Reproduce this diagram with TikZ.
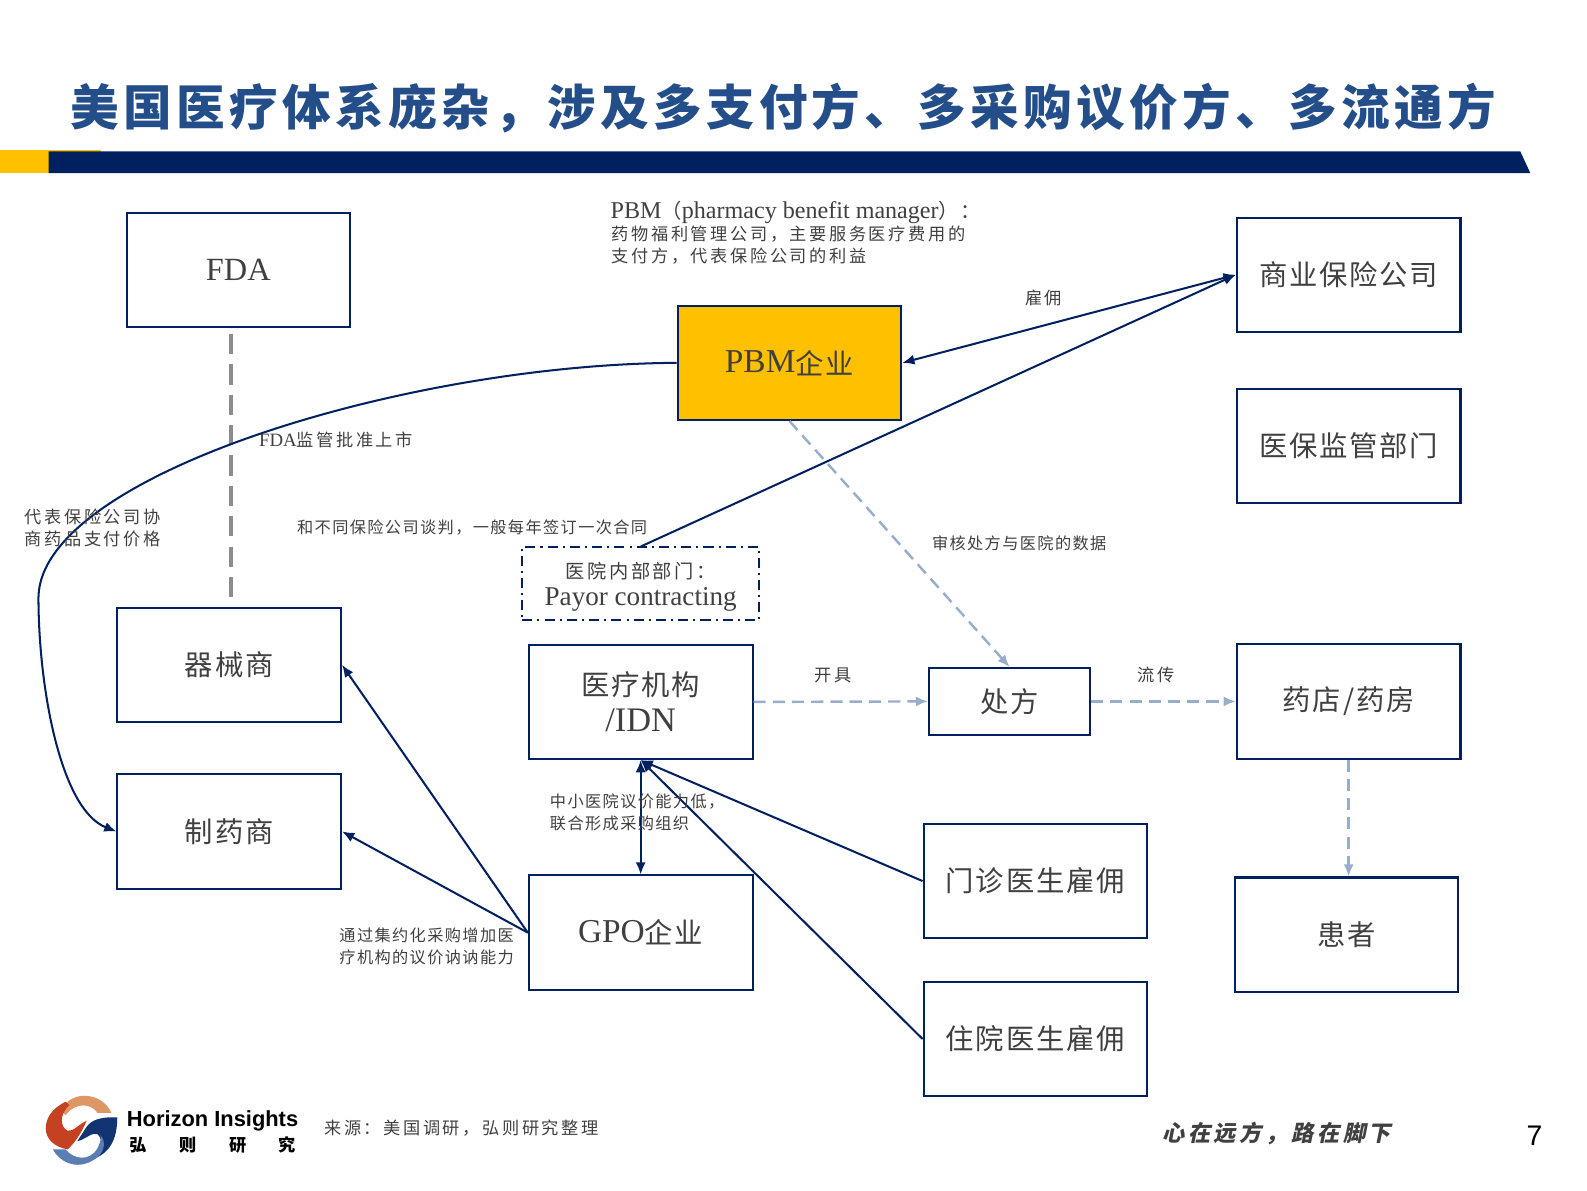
\documentclass[tikz,border=0pt]{standalone}
\usepackage{fontspec}
\usetikzlibrary{arrows.meta}
\setmainfont{Liberation Serif}
\newfontfamily\zhT[LetterSpace=9]{Noto Sans CJK SC}
\newfontfamily\zhB[LetterSpace=6.5]{Noto Sans CJK SC}
\newfontfamily\zhN[LetterSpace=15]{Noto Sans CJK SC}
\newfontfamily\zhM[LetterSpace=14]{Noto Sans CJK SC}
\newfontfamily\zhS[LetterSpace=8.5]{Noto Sans CJK SC}
\newfontfamily\zhQ[LetterSpace=16,FakeSlant=0.2]{Noto Sans CJK SC}
\newfontfamily\logofont{Liberation Sans}
\definecolor{navy}{HTML}{002060}
\definecolor{gold}{HTML}{FFC000}
\definecolor{titleblue}{HTML}{234E8A}
\definecolor{ink}{HTML}{404040}
\definecolor{pale}{HTML}{98ACCC}
\definecolor{logotan}{RGB}{222,150,100}
\definecolor{logored}{RGB}{196,66,34}
\definecolor{logonavy}{RGB}{18,52,112}
\definecolor{logosky}{RGB}{90,125,178}
\tikzset{
 box/.style={draw=navy,line width=1pt,minimum width=110.5pt,minimum height=56.5pt,inner sep=0pt,align=center,text=ink,font=\fontsize{14}{18}\selectfont},
 lbl/.style={text=ink,inner sep=0pt,align=left,font=\fontsize{8.5}{11}\selectfont},
 solidarrow/.style={draw=navy,line width=1pt,-{Latex[length=6pt,width=5pt]}},
 twoarrow/.style={draw=navy,line width=1pt,{Latex[length=6pt,width=5pt]}-{Latex[length=6pt,width=5pt]}},
 palearrow/.style={draw=pale,line width=1.2pt,dash pattern=on 6pt off 3.5pt,-{Latex[length=6pt,width=5pt]}},
}
\begin{document}
\begin{tikzpicture}[x=0.5pt,y=-0.5pt]
\useasboundingbox (0,0) rectangle (1568,1176);
% title and bar
\node[inner sep=0pt,text=titleblue] (title) at (774,107) {\fontsize{24}{28}\selectfont\zhT\bfseries 美国医疗体系庞杂，涉及多支付方、多采购议价方、多流通方};
\fill[gold] (0,148.5) rectangle (48,171);
\fill[gold] (48,148.5) rectangle (100,150);
\fill[navy] (48,149.5) -- (1502,149.5) -- (1512,171) -- (48,171) -- cycle;
% boxes
\node[box] (fda) at (235.5,267) {\raisebox{-0.8pt}{\fontsize{16}{19}\selectfont FDA}};
\node[box] (ins) at (1332.5,271.5) {\zhB 商业保险公司};
\node[box,fill=gold] (pbm) at (780,358.5) {\raisebox{0.6pt}{\fontsize{16.5}{19}\selectfont PBM}\zhB 企业};
\node[box] (reg) at (1332.5,440.5) {\zhB 医保监管部门};
\node[box,minimum width=117pt,minimum height=36.5pt,line width=1pt,dash pattern=on 5pt off 2.5pt on 1pt off 2.5pt,font=\fontsize{13.4}{13.5}\selectfont] (pay) at (633,576.5) {\rule{0pt}{11pt}{\fontsize{9.5}{13.5}\selectfont\zhM 医院内部部门：}\\Payor contracting};
\node[box] (dev) at (226.5,657) {\zhB 器械商};
\node[box] (idn) at (633,693.5) {\zhB 医疗机构\\{\fontsize{17}{18}\selectfont /IDN}};
\node[box,minimum width=79.5pt,minimum height=33pt] (rx) at (997.5,693) {\zhB 处方};
\node[box] (ph) at (1332.5,693) {\raisebox{-0.8pt}{\zhB 药店/药房}};
\node[box] (drug) at (226.5,821.5) {\zhB 制药商};
\node[box] (gpo) at (633,921.5) {\raisebox{0.6pt}{\fontsize{16.5}{19}\selectfont GPO}\zhB 企业};
\node[box] (opd) at (1023,870.5) {\zhB 门诊医生雇佣};
\node[box] (ipd) at (1023,1026.5) {\zhB 住院医生雇佣};
\node[box] (pat) at (1330.5,923.5) {\zhB 患者};
% connectors
\coordinate (fdaa) at (228,330);
\coordinate (fdab) at (228,590);
\draw[draw=gray!90,line width=2pt,dash pattern=on 10pt off 5pt] (fdaa) -- (fdab);
\draw[solidarrow] (pbm.west) .. controls (400,360) and (40,470) .. (38,590) .. controls (38,680) and (60,800) .. (drug.west);
\draw[twoarrow] (pbm.east) -- (ins.west);
\coordinate (paytop) at (633,540);
\draw[solidarrow] (paytop) -- (ins.west);
\draw[palearrow] (pbm.south) -- (rx.north);
\draw[palearrow] (idn.east) -- (rx.west);
\draw[palearrow] (rx.east) -- (ph.west);
\coordinate (patn) at (1332.5,866);
\draw[palearrow] (ph.south) -- (patn);
\draw[twoarrow] (idn.south) -- (gpo.north);
\draw[solidarrow] (gpo.west) -- (dev.east);
\draw[solidarrow] (gpo.west) -- (drug.east);
\draw[solidarrow] (opd.west) -- (idn.south);
\draw[solidarrow] (ipd.west) -- (idn.south);
% labels
\node[lbl,anchor=west,font=\fontsize{11.9}{12}\selectfont] (n1) at (603,210) {PBM{\fontsize{10}{12}\selectfont\zhS （}pharmacy benefit manager{\fontsize{10}{12}\selectfont\zhS ）：}};
\node[lbl,anchor=north west] (n2) at (604,223) {\zhN 药物福利管理公司，主要服务医疗费用的\\\zhN 支付方，代表保险公司的利益};
\node[lbl] (l1) at (1031,294) {\zhN 雇佣};
\node[lbl,font=\fontsize{9.3}{11}\selectfont] (l2) at (332,435) {FDA{\fontsize{8.5}{11}\selectfont\zhN 监管批准上市}};
\node[lbl,anchor=west] (l3) at (24,522) {\zhN 代表保险公司协\\\zhN 商药品支付价格};
\node[lbl,font=\fontsize{8}{11}\selectfont] (l4) at (466.5,521) {\zhS 和不同保险公司谈判，一般每年签订一次合同};
\node[lbl,font=\fontsize{8}{11}\selectfont] (l5) at (1007,537) {\zhS 审核处方与医院的数据};
\node[lbl] (l6) at (823.5,667) {\zhN 开具};
\node[lbl] (l7) at (1142,667) {\zhN 流传};
\node[lbl,anchor=west,font=\fontsize{8}{10.7}\selectfont] (l8) at (543,802.5) {\zhS 中小医院议价能力低，\\\zhS 联合形成采购组织};
\node[lbl,anchor=west,font=\fontsize{8}{11}\selectfont] (l9) at (335,935) {\zhS 通过集约化采购增加医\\\zhS 疗机构的议价讷讷能力};
\node[lbl,anchor=west] (src) at (320,1115) {\zhN 来源：美国调研，弘则研究整理};
\node[inner sep=0pt,text=ink,anchor=west] (slog) at (1148,1120) {\fontsize{11}{12}\selectfont\zhQ\bfseries 心在远方，路在脚下};
\node[inner sep=0pt] (pg) at (1516,1122) {\fontsize{14}{16}\selectfont\logofont 7};
% logo
\begin{scope}[shift={(0,1047.4)},x=0.1964pt,y=-0.1647pt]
\fill[logotan] (152,150) .. controls (170,115) and (195,107) .. (212,107) .. controls (245,107) and (270,130) .. (280,158) -- (245,158) .. controls (230,130) and (190,125) .. (165,165) -- cycle;
\fill[logored] (165,125) .. controls (130,145) and (115,175) .. (115,205) .. controls (115,235) and (135,260) .. (170,268) .. controls (195,240) and (205,215) .. (218,182) .. controls (200,190) and (185,215) .. (170,212) .. controls (150,200) and (150,160) .. (175,135) -- cycle;
\fill[logonavy] (295,172) .. controls (260,170) and (230,175) .. (215,205) .. controls (205,225) and (198,235) .. (195,243) .. controls (215,238) and (232,215) .. (245,222) .. controls (262,240) and (255,270) .. (232,298) .. controls (275,280) and (295,240) .. (295,172) -- cycle;
\fill[logosky] (133,268) -- (165,268) .. controls (185,298) and (225,305) .. (245,265) .. controls (255,240) and (255,230) .. (252,225) .. controls (270,245) and (262,285) .. (232,302) .. controls (190,330) and (150,305) .. (133,268) -- cycle;
\end{scope}
\node[inner sep=0pt,anchor=west] (lg1) at (125,1107) {\fontsize{10.8}{12}\selectfont\logofont\bfseries Horizon Insights};
\node[inner sep=0pt,anchor=west] (lg2) at (128,1131) {\fontsize{8.5}{10}\selectfont\zhS\bfseries 弘\hspace{16pt}则\hspace{16pt}研\hspace{16pt}究};
\end{tikzpicture}
\end{document}
